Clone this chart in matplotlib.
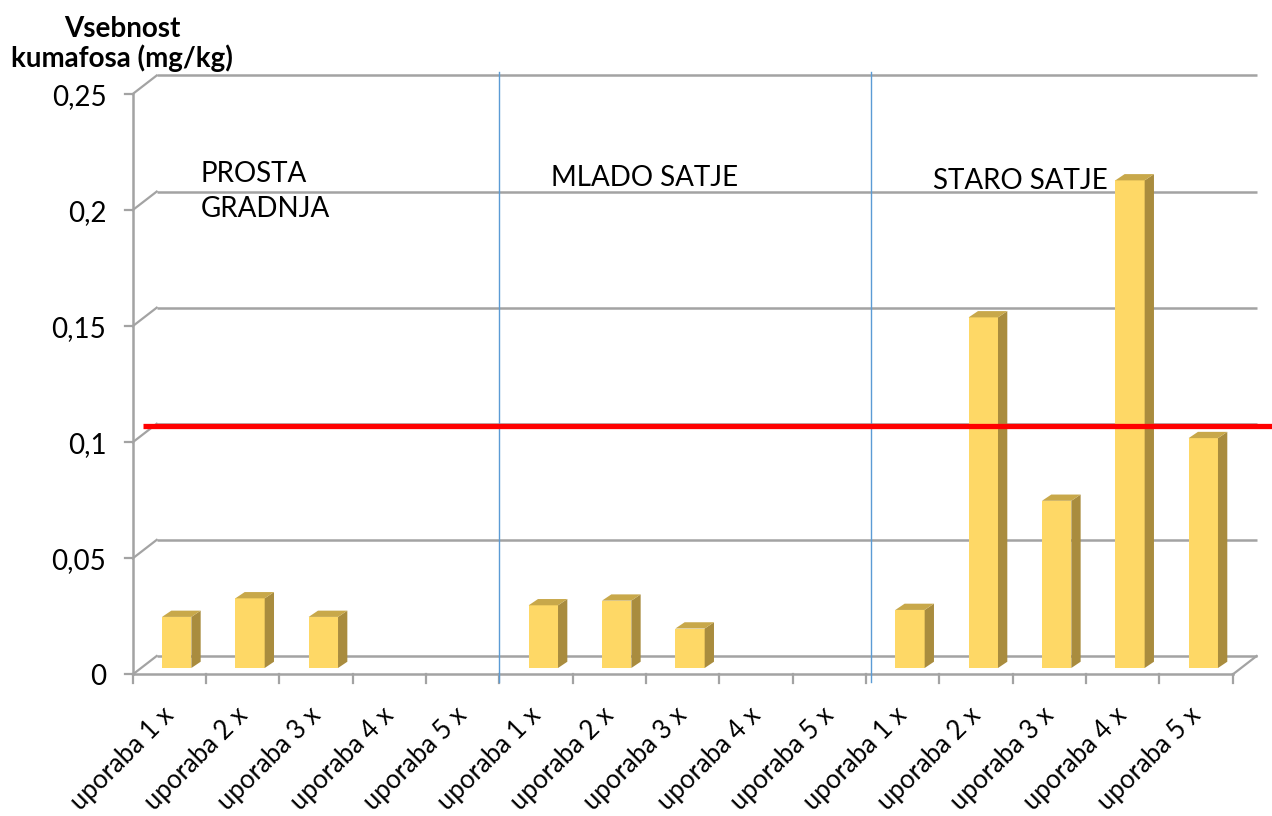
import matplotlib
matplotlib.use("Agg")
import matplotlib.pyplot as plt
from matplotlib.patches import Polygon
import numpy as np

# ---- data ----
groups = ["PROSTA\nGRADNJA", "MLADO SATJE", "STARO SATJE"]
uses = ["uporaba 1 x", "uporaba 2 x", "uporaba 3 x", "uporaba 4 x", "uporaba 5 x"]
prosta = [0.022, 0.030, 0.022, 0.0, 0.0]
mlado = [0.027, 0.029, 0.017, 0.0, 0.0]
staro = [0.025, 0.151, 0.072, 0.210, 0.099]
yticks = [0, 0.05, 0.1, 0.15, 0.2, 0.25]
ytick_labels = ["0", "0,05", "0,1", "0,15", "0,2", "0,25"]
limit_value = 0.107
ylabel = "Vsebnost\nkumafosa (mg/kg)"

values = prosta + mlado + staro
labels = uses * 3
n = len(values)

# ---- style / geometry ----
FONT = ["Lato", "DejaVu Sans"]
plt.rcParams["font.family"] = FONT
W, H = 1272, 816
fig = plt.figure(figsize=(W / 100, H / 100), dpi=100)
ax = fig.add_axes([0, 0, 1, 1])
ax.set_xlim(-1.8096, 15.5366)
ax.set_ylim(-0.06094, 0.29048)
ax.axis("off")

GRID = "#a3a3a3"
DX, DY = 0.327, 0.00797          # back-wall depth offset
BX, BY = 0.127, 0.0027           # bar depth
BASE = 0.0028                    # bars stand on middle of floor
BAR_LEFT, BAR_W = 0.40, 0.40
FRONT = "#fed866"
SIDE = "#a98c3e"
TOP = "#c8a84a"

# back-wall gridlines + left-side diagonals + y ticks
for v in yticks:
    ax.plot([DX, n + DX], [v + DY, v + DY], color=GRID, lw=1.8, zorder=1,
            solid_capstyle="butt")
    ax.plot([0, DX], [v, v + DY], color=GRID, lw=1.6, zorder=1)
    ax.plot([-0.11, 0], [v, v], color=GRID, lw=1.6, zorder=1)
# front left axis
ax.plot([0, 0], [0, yticks[-1]], color=GRID, lw=1.8, zorder=1)
# floor front edge and right edge
ax.plot([0, n], [0, 0], color=GRID, lw=1.8, zorder=1)
ax.plot([n, n + DX], [0, DY], color=GRID, lw=1.6, zorder=1)
# x ticks
for i in range(n + 1):
    ax.plot([i, i], [0, -0.0038], color=GRID, lw=1.6, zorder=1)

# y tick labels
for v, s in zip(yticks, ytick_labels):
    ax.text(-0.36, v - 0.0012, s, ha="right", va="center", fontsize=20,
            color="#000000")

# group separators
for xs in (4.99, 10.07):
    ax.plot([xs, xs], [-0.0032, 0.2596], color="#5b9bd5", lw=1.0, zorder=2)

# bars
xs = np.arange(n)
pos = [x for x, v in zip(xs, values) if v > 0]
vals = [v for v in values if v > 0]
ax.bar(np.array(pos) + BAR_LEFT, vals, width=BAR_W, bottom=BASE, align="edge",
       color=FRONT, edgecolor="none", zorder=3)
for x, v in zip(pos, vals):
    l = x + BAR_LEFT
    r = l + BAR_W
    t = BASE + v
    side = Polygon([(r, BASE), (r + BX, BASE + BY), (r + BX, t + BY), (r, t)],
                   closed=True, facecolor=SIDE, edgecolor="none", zorder=3)
    top = Polygon([(l, t), (l + BX, t + BY), (r + BX, t + BY), (r, t)],
                  closed=True, facecolor=TOP, edgecolor="none", zorder=3)
    ax.add_patch(side)
    ax.add_patch(top)

# limit line
ax.plot([0.14, 15.54], [limit_value, limit_value], color="#ff0000", lw=3.8,
        zorder=5, solid_capstyle="butt")

# category labels
for i, s in enumerate(labels):
    ax.text(i + 0.51, -0.0160, s, rotation=45, ha="right", va="center",
            rotation_mode="anchor", fontsize=18.5)

# group annotations
ax.text(0.93, 0.197, groups[0], ha="left", va="baseline", fontsize=20,
        linespacing=1.44)
ax.text(5.7, 0.2105, groups[1], ha="left", va="baseline", fontsize=20)
ax.text(10.91, 0.2093, groups[2], ha="left", va="baseline", fontsize=20)

# y-axis title
fig.text(122 / W, 1 - 44 / H, ylabel, ha="center", va="center", fontsize=20,
         fontweight="bold", linespacing=1.1)

fig.savefig("out.png", dpi=100)
